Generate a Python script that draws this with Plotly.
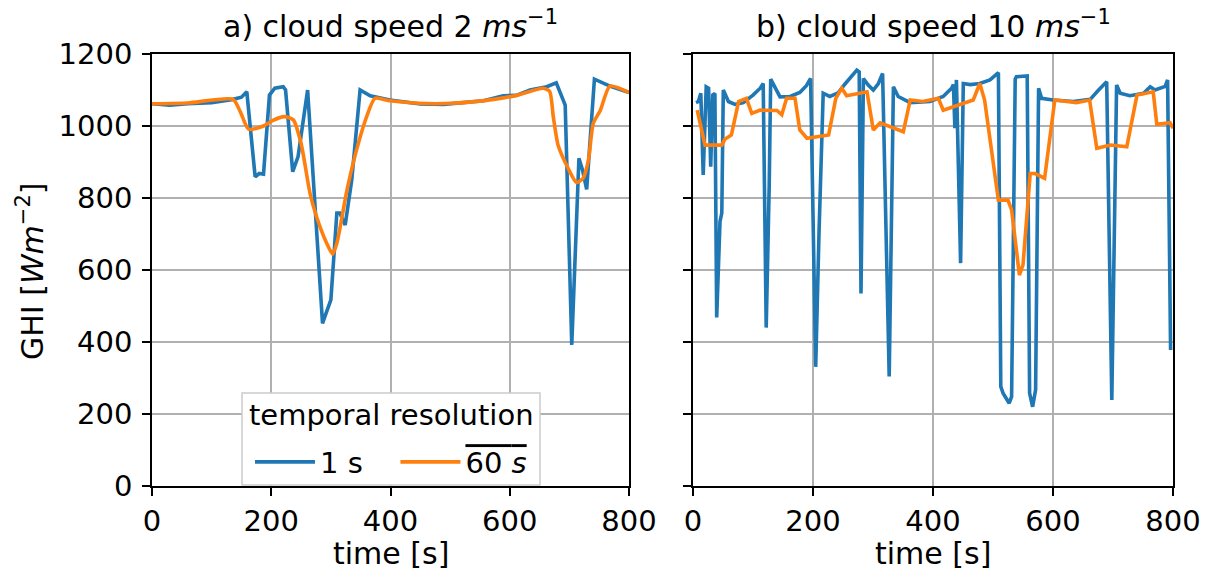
import plotly.graph_objects as go

# ---------------- data ----------------
# a) cloud speed 2 m/s
t_a_1s = [0, 30, 60, 100, 136, 150, 159, 173, 180, 187, 197, 206, 220, 224, 236, 245, 261,
          273, 286, 292, 300, 310, 315, 324, 335, 349, 366, 399, 450, 489, 556, 589, 611,
          634, 662, 678, 693, 704, 716, 722, 729, 742, 768, 800]
ghi_a_1s = [1062, 1058, 1062, 1065, 1074, 1080, 1095, 859, 868, 866, 1086, 1105, 1109, 1100,
            873, 915, 1100, 785, 452, 480, 517, 758, 758, 725, 850, 1100, 1084, 1072, 1061,
            1060, 1070, 1084, 1085, 1100, 1109, 1120, 1058, 392, 910, 878, 824, 1130, 1111, 1093]

t_a_60 = [0, 60, 136, 148, 162, 187, 202, 222, 237, 250, 265, 276, 293, 303, 310, 327, 343,
          360, 374, 399, 447, 503, 573, 611, 656, 667, 673, 681, 698, 712, 723, 732, 740,
          752, 768, 800]
ghi_a_60 = [1062, 1064, 1074, 1040, 991, 1000, 1015, 1026, 1017, 952, 813, 748, 674, 644, 674,
            822, 933, 1026, 1077, 1070, 1063, 1063, 1074, 1085, 1105, 1096, 1026, 947, 882,
            843, 855, 905, 1007, 1044, 1111, 1093]

# b) cloud speed 10 m/s
t_b_1s = [5, 9, 13, 17, 22, 26, 29.5, 33, 36.5, 39.5, 45, 48, 50.5, 59, 70, 84, 100, 112, 117,
          122, 127, 129.5, 145, 162, 178, 189, 196, 204.5, 210, 217, 228, 242, 253, 264, 273,
          277, 280, 284, 292, 300.5, 309, 316, 327, 334, 342, 362, 395, 417, 431, 434, 436.5,
          439, 446, 450.5, 462, 478, 495, 509, 513, 517, 527, 531, 537, 539, 553, 557, 561,
          566, 571, 576, 581, 600, 634, 662, 676, 689.5, 698, 706, 712, 728, 751, 762, 770,
          778, 787, 791, 796]
ghi_b_1s = [1065, 1068, 1091, 864, 1109, 1105, 887, 1086, 1090, 468, 735, 758, 1100, 1068,
            1060, 1065, 1086, 1105, 1118, 440, 833, 1130, 1081, 1082, 1093, 1112, 1132, 331,
            702, 1091, 1082, 1092, 1116, 1137, 1155, 1150, 535, 1132, 1114, 1100, 1118, 1146,
            304, 1109, 1082, 1065, 1068, 1082, 1105, 1115, 994, 1128, 619, 1118, 1115, 1118,
            1128, 1148, 276, 257, 230, 248, 1130, 1137, 1137, 1139, 258, 220, 267, 1105, 1077,
            1072, 1068, 1074, 1100, 1123, 239, 1114, 1091, 1084, 1091, 1109, 1100, 1105, 1110,
            1128, 378]

t_b_60 = [7, 20, 48, 53, 64, 76, 89, 98, 112, 140, 148, 156, 170, 178, 190, 220, 226, 238,
          248, 256, 278, 290, 300.5, 312, 350.5, 362, 383, 409, 417, 439, 467, 478, 486, 509,
          525, 531, 544, 550, 562, 570, 586, 603, 639, 661, 673, 696, 723, 740, 767, 773, 795, 800]
ghi_b_60 = [1044, 947, 947, 963, 975, 1068, 1077, 1035, 1044, 1043, 1031, 1077, 1077, 989, 966,
            972, 975, 1077, 1105, 1084, 1092, 1095, 989, 1009, 984, 1072, 1068, 1077, 1044,
            1057, 1072, 1118, 1072, 794, 794, 767, 586, 614, 868, 868, 855, 1072, 1065, 1072,
            938, 947, 942, 1086, 1095, 1005, 1009, 994]

x_ticks = [0, 200, 400, 600, 800]
y_ticks = [0, 200, 400, 600, 800, 1000, 1200]

titles = ["a) cloud speed 2 <i>ms</i><sup>−1</sup>", "b) cloud speed 10 <i>ms</i><sup>−1</sup>"]
ylabel = "GHI [<i>Wm</i><sup>−2</sup>]"
xlabel = "time [s]"
legend_title = "temporal resolution"
name_1s = "1 s\u00a0\u00a0\u00a0"
name_60 = "<span style='text-decoration:overline'>60 <i>s</i></span>"

BLUE = "#1f77b4"
ORANGE = "#ff7f0e"
FONT = "DejaVu Sans"
LW = 3.6

W, H = 1210, 581
L, R, T, B = 152, 37, 54, 95
pw = W - L - R
ph = H - T - B

def px2paper_x(px):
    return (px - L) / pw

def px2paper_y(py):
    return (H - B - py) / ph

fig = go.Figure()
fig.add_trace(go.Scatter(x=t_a_1s, y=ghi_a_1s, mode="lines", name=name_1s,
                         line=dict(color=BLUE, width=LW), xaxis="x", yaxis="y"))
fig.add_trace(go.Scatter(x=t_a_60, y=ghi_a_60, mode="lines", name=name_60,
                         line=dict(color=ORANGE, width=LW, shape="spline", smoothing=0.6),
                         xaxis="x", yaxis="y"))
fig.add_trace(go.Scatter(x=t_b_1s, y=ghi_b_1s, mode="lines", showlegend=False,
                         line=dict(color=BLUE, width=LW), xaxis="x2", yaxis="y2"))
fig.add_trace(go.Scatter(x=t_b_60, y=ghi_b_60, mode="lines", showlegend=False,
                         line=dict(color=ORANGE, width=LW), xaxis="x2", yaxis="y2"))

axis_common = dict(showgrid=True, gridcolor="#b0b0b0", gridwidth=1.6, zeroline=False,
                   showline=True, linecolor="black", linewidth=1.6, mirror=True,
                   ticks="outside", ticklen=8, tickwidth=1.6, tickcolor="black",
                   tickfont=dict(family=FONT, size=29, color="black"))

fig.update_layout(
    width=W, height=H,
    margin=dict(l=L, r=R, t=T, b=B, autoexpand=False),
    paper_bgcolor="white", plot_bgcolor="white",
    font=dict(family=FONT, size=29, color="black"),
    xaxis=dict(domain=[0, px2paper_x(629)], range=[0, 800], tickvals=x_ticks, anchor="y",
               **axis_common),
    yaxis=dict(domain=[0, 1], range=[0, 1200], tickvals=y_ticks, anchor="x",
               ticklabelstandoff=4, **axis_common),
    xaxis2=dict(domain=[px2paper_x(693), 1], range=[0, 800], tickvals=x_ticks, anchor="y2",
                **axis_common),
    yaxis2=dict(domain=[0, 1], range=[0, 1200], tickvals=y_ticks, anchor="x2",
                showticklabels=False, **axis_common),
    legend=dict(orientation="h", x=px2paper_x(391), xanchor="center",
                y=px2paper_y(462), yanchor="middle",
                font=dict(family=FONT, size=29, color="black"),
                bgcolor="rgba(0,0,0,0)", borderwidth=0,
                itemwidth=60, tracegroupgap=0),
    showlegend=True,
)

# legend frame and title
fig.add_shape(type="rect", xref="paper", yref="paper",
              x0=px2paper_x(242), x1=px2paper_x(540),
              y0=px2paper_y(485), y1=px2paper_y(393),
              fillcolor="white", line=dict(color="#cccccc", width=1.5), layer="above")

annotations = [
    dict(text=titles[0], x=px2paper_x(390.5), y=px2paper_y(24), xref="paper", yref="paper",
         showarrow=False, xanchor="center", yanchor="middle",
         font=dict(family=FONT, size=30, color="black")),
    dict(text=titles[1], x=px2paper_x(933), y=px2paper_y(24), xref="paper", yref="paper",
         showarrow=False, xanchor="center", yanchor="middle",
         font=dict(family=FONT, size=30, color="black")),
    dict(text=xlabel, x=px2paper_x(390.5), y=px2paper_y(553), xref="paper", yref="paper",
         showarrow=False, xanchor="center", yanchor="middle",
         font=dict(family=FONT, size=30, color="black")),
    dict(text=xlabel, x=px2paper_x(933), y=px2paper_y(553), xref="paper", yref="paper",
         showarrow=False, xanchor="center", yanchor="middle",
         font=dict(family=FONT, size=30, color="black")),
    dict(text=ylabel, x=px2paper_x(30), y=px2paper_y(272), xref="paper", yref="paper",
         showarrow=False, xanchor="center", yanchor="middle", textangle=-90,
         font=dict(family=FONT, size=30, color="black")),
    dict(text=legend_title, x=px2paper_x(391), y=px2paper_y(415), xref="paper", yref="paper",
         showarrow=False, xanchor="center", yanchor="middle",
         font=dict(family=FONT, size=29, color="black")),
]
fig.update_layout(annotations=annotations)

fig.write_html("out.html")
